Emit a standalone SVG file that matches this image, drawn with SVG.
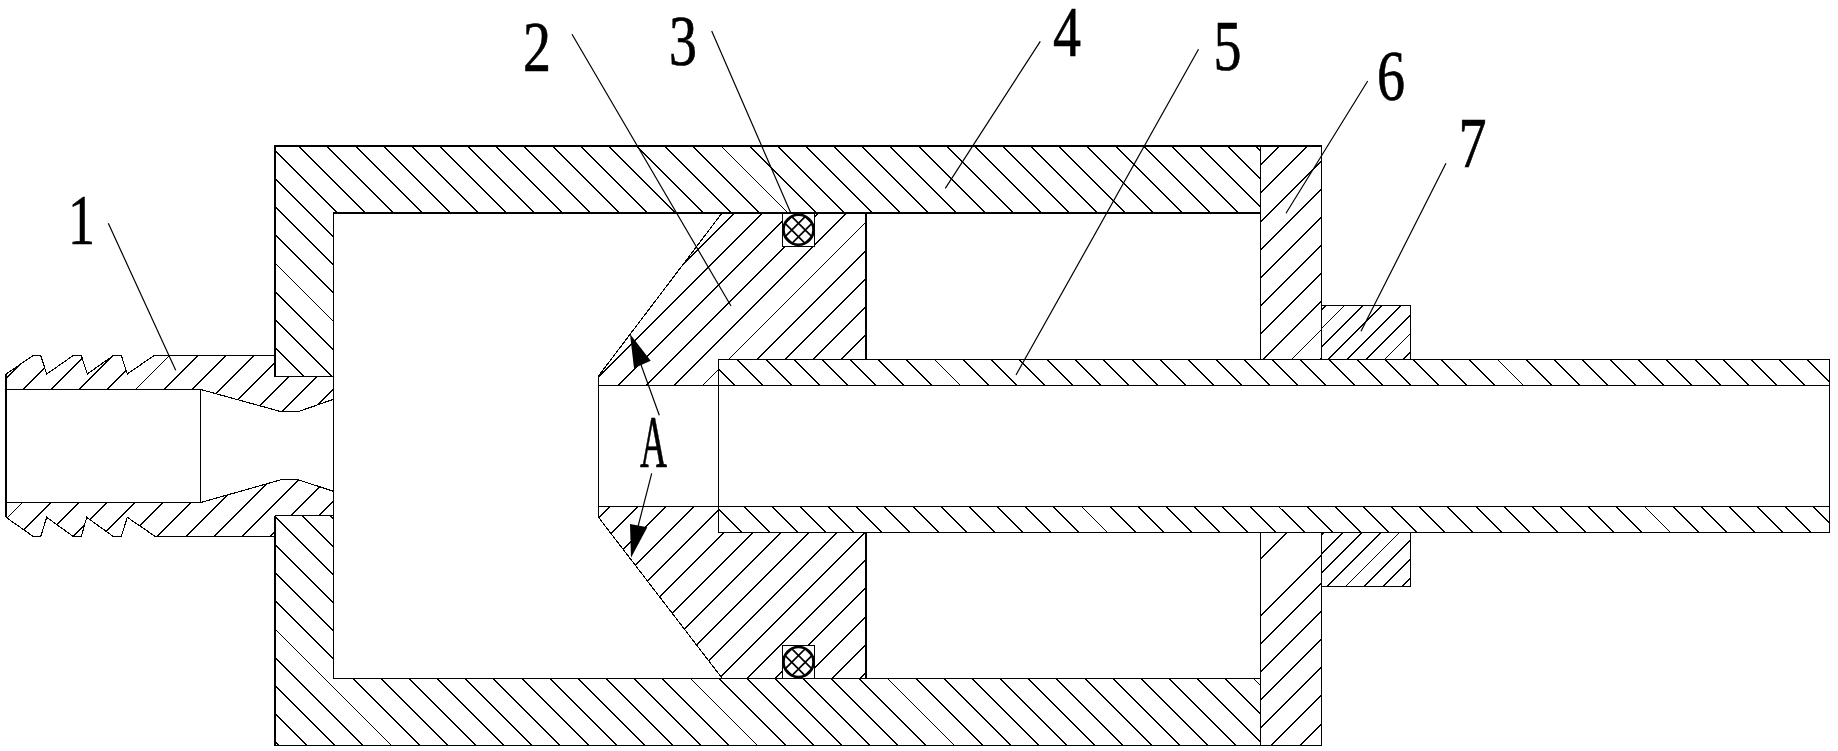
<svg xmlns="http://www.w3.org/2000/svg" width="1838" height="751" viewBox="0 0 1838 751">
<style>
.bg{fill:#fff}
.e{fill:none;stroke:#000;stroke-width:1.1;shape-rendering:crispEdges}
.t{fill:none;stroke:#000;stroke-width:2;shape-rendering:crispEdges}
.h{fill:none;stroke:#000;stroke-width:1.35;shape-rendering:crispEdges}
.l{fill:none;stroke:#000;stroke-width:1.2}
.a{fill:#000;stroke:none}
.lab{font-family:"Liberation Serif","Times New Roman",serif;font-size:72px;fill:#000;text-anchor:middle;stroke:#000;stroke-width:.7}
</style>
<defs>
<clipPath id="cb">
<rect x="275" y="146" width="985.5" height="67"/><rect x="275" y="213" width="58.5" height="163.5"/><rect x="275" y="515.5" width="58.5" height="230"/><rect x="333.5" y="678.5" width="927" height="67"/><rect x="718.5" y="359.5" width="1111" height="26"/><rect x="718.5" y="506.5" width="1111" height="26"/>
</clipPath>
<clipPath id="cf">
<polygon points="6,374 33.3,355.5 40.7,355.5 46.7,374 73.3,355.5 81.3,355.5 87.3,374 113.3,355.5 121.3,355.5 127.3,374 154,355.5 275,355.5 275,376.5 333.5,376.5 333.5,399.3 298,411.7 281.3,411.7 200.7,389.5 6,389.5"/>
<polygon points="6,502.5 200.7,502.5 281.3,479.7 298,479.7 333.5,491.3 333.5,515.5 275,515.5 275,536.5 155.3,536.5 127.3,517.3 121.3,536.5 113.3,536.5 86.7,517.3 81.3,536.5 73.3,536.5 46.7,517.3 40.7,536.5 33.3,536.5 6,517.3"/>
<polygon points="598.5,376 722,213 866,213 866,359.5 718.5,359.5 718.5,385.5 598.5,385.5"/>
<polygon points="598.5,506.5 718.5,506.5 718.5,532.5 866,532.5 866,678.5 722.3,678.5 598.5,517.3"/>
<rect x="1260.5" y="146" width="61" height="213.5"/><rect x="1260.5" y="532.5" width="61" height="213"/>
</clipPath>
<clipPath id="cn">
<rect x="1321.5" y="305.5" width="89" height="54"/><rect x="1321.5" y="532.5" width="89" height="54"/>
</clipPath>
<clipPath id="cr"><circle cx="0" cy="0" r="16"/></clipPath>
<g id="oring">
<rect class="bg" x="-16.5" y="-16.5" width="33" height="33"/>
<rect class="e" x="-16" y="-16.5" width="32" height="33"/>
<circle cx="0" cy="0" r="15" fill="#fff" stroke="#000" stroke-width="2.6"/>
<path clip-path="url(#cr)" fill="none" stroke="#000" stroke-width="1.7" d="M-27 -20L13 20M-13.5 -20L26.5 20M0 -20L40 20M-40 -20L0 20M-53 -20L-13 20M27 -20L-13 20M13.5 -20L-26.5 20M0 -20L-40 20M40 -20L0 20M53 -20L13 20"/>
</g>
</defs>
<rect class="bg" x="0" y="0" width="1838" height="751"/>

<g id="hatching">
<path class="h" clip-path="url(#cb)" d="M-466.55 0l760 760m-731.85 -760l760 760m-731.85 -760l760 760m-731.85 -760l760 760m-731.85 -760l760 760m-731.85 -760l760 760m-731.85 -760l760 760m-731.85 -760l760 760m-731.85 -760l760 760m-731.85 -760l760 760m-731.85 -760l760 760m-731.85 -760l760 760m-731.85 -760l760 760m-731.85 -760l760 760m-731.85 -760l760 760m-731.85 -760l760 760m-731.85 -760l760 760m-731.85 -760l760 760m-731.85 -760l760 760m-731.85 -760l760 760m-731.85 -760l760 760m-731.85 -760l760 760m-731.85 -760l760 760m-731.85 -760l760 760m-731.85 -760l760 760m-731.85 -760l760 760m-731.85 -760l760 760m-731.85 -760l760 760m-731.85 -760l760 760m-731.85 -760l760 760m-731.85 -760l760 760m-731.85 -760l760 760m-731.85 -760l760 760m-731.85 -760l760 760m-731.85 -760l760 760m-731.85 -760l760 760m-731.85 -760l760 760m-731.85 -760l760 760m-731.85 -760l760 760m-731.85 -760l760 760m-731.85 -760l760 760m-731.85 -760l760 760m-731.85 -760l760 760m-731.85 -760l760 760m-731.85 -760l760 760m-731.85 -760l760 760m-731.85 -760l760 760m-731.85 -760l760 760m-731.85 -760l760 760m-731.85 -760l760 760m-731.85 -760l760 760m-731.85 -760l760 760m-731.85 -760l760 760m-731.85 -760l760 760m-731.85 -760l760 760m-731.85 -760l760 760m-731.85 -760l760 760m-731.85 -760l760 760m-731.85 -760l760 760m-731.85 -760l760 760m-731.85 -760l760 760m-731.85 -760l760 760"/>
<path class="h" clip-path="url(#cb)" d="M1250.6 0l760 760M1278.75 0l760 760M1306.9 0l760 760M1335.05 0l760 760M1363.2 0l760 760M1391.35 0l760 760M1419.5 0l760 760M1447.65 0l760 760M1475.8 0l760 760"/>
<path class="h" clip-path="url(#cf)" d="M356.1 0l-760 760m788.15 -760l-760 760m788.15 -760l-760 760m788.15 -760l-760 760m788.15 -760l-760 760m788.15 -760l-760 760m788.15 -760l-760 760m788.15 -760l-760 760m788.15 -760l-760 760m788.15 -760l-760 760m788.15 -760l-760 760m788.15 -760l-760 760m788.15 -760l-760 760m788.15 -760l-760 760m788.15 -760l-760 760m788.15 -760l-760 760m788.15 -760l-760 760m788.15 -760l-760 760m788.15 -760l-760 760m788.15 -760l-760 760m788.15 -760l-760 760m788.15 -760l-760 760m788.15 -760l-760 760m788.15 -760l-760 760m788.15 -760l-760 760m788.15 -760l-760 760m788.15 -760l-760 760m788.15 -760l-760 760m788.15 -760l-760 760m788.15 -760l-760 760m788.15 -760l-760 760m788.15 -760l-760 760m788.15 -760l-760 760m788.15 -760l-760 760m788.15 -760l-760 760m788.15 -760l-760 760m788.15 -760l-760 760m788.15 -760l-760 760m788.15 -760l-760 760m788.15 -760l-760 760m788.15 -760l-760 760m788.15 -760l-760 760m788.15 -760l-760 760m788.15 -760l-760 760m788.15 -760l-760 760m788.15 -760l-760 760m788.15 -760l-760 760m788.15 -760l-760 760m788.15 -760l-760 760m788.15 -760l-760 760m788.15 -760l-760 760m788.15 -760l-760 760m788.15 -760l-760 760"/>
<path class="h" clip-path="url(#cf)" d="M1876.2 0l-760 760M1904.35 0l-760 760M1932.5 0l-760 760M1960.65 0l-760 760M1988.8 0l-760 760M2016.95 0l-760 760M2045.1 0l-760 760"/>
<path class="h" clip-path="url(#cn)" d="M1631.2 0l-760 760m778.8 -760l-760 760m778.8 -760l-760 760m778.8 -760l-760 760m778.8 -760l-760 760m778.8 -760l-760 760m778.8 -760l-760 760m778.8 -760l-760 760m778.8 -760l-760 760m778.8 -760l-760 760m778.8 -760l-760 760m778.8 -760l-760 760m778.8 -760l-760 760m778.8 -760l-760 760"/>
<path class="h" clip-path="url(#cn)" d="M1875.6 0l-760 760M1894.4 0l-760 760M1913.2 0l-760 760M1932 0l-760 760M1950.8 0l-760 760M1969.6 0l-760 760M1988.4 0l-760 760"/>
</g>

<g id="part-4-housing">
<path class="t" d="M275 145V376.5M274 146H1321.5M333 213H1260.5M275 515.5V746"/>
<path class="e" d="M275 376.5H333.5M275 515.5H333.5M333.5 213V678.5M333.5 678.5H1260.5M275 745.5H1321.5"/>
</g>
<g id="part-6-end-cap">
<path class="e" d="M1260.5 146V359.5M1260.5 532.5V745.5M1321.5 146V359.5M1321.5 532.5V745.5"/>
</g>
<g id="part-7-nut">
<path class="e" d="M1321.5 305.5H1410.5V359.5M1321.5 586.5H1410.5V532.5"/>
</g>
<g id="part-1-fitting">
<path class="e" d="M6 374L33.3 355.5H40.7L46.7 374L73.3 355.5H81.3L87.3 374L113.3 355.5H121.3L127.3 374L154 355.5H275"/>
<path class="e" d="M6 517.3L33.3 536.5H40.7L46.7 517.3L73.3 536.5H81.3L86.7 517.3L113.3 536.5H121.3L127.3 517.3L155.3 536.5H275"/>
<path class="e" d="M6 389.5H200.7L281.3 411.7H298L333.5 399.3M6 502.5H200.7L281.3 479.7H298L333.5 491.3M200.7 389.5V502.5"/>
<path class="t" d="M6 374V517.3"/>
</g>
<g id="part-2-piston">
<path class="e" d="M598.5 376L722 213M598.5 517.3L722.3 678.5M598.5 376V517.3M598.5 385.5H718.5M598.5 506.5H718.5"/>
<path class="t" d="M866 213V359.5M866 532.5V678.5"/>
</g>
<g id="part-5-tube">
<path class="e" d="M718.5 359.5H1829.5V532.5H718.5ZM718.5 385.5H1829.5M718.5 506.5H1829.5"/>
</g>
<g id="part-3-o-rings">
<use href="#oring" x="798.5" y="229.8"/>
<use href="#oring" x="798.5" y="662"/>
</g>

<g id="connectors">
<path class="l" d="M108.3 223.3L175.7 370.3M572 34.3L731 306M711.7 31L790.7 212.7M1040.3 41.3L945.3 188.3M1198.5 49.3L1016 375M1367.7 81L1286 213.3M1446 163.3L1361 331.3M632 340L659.3 415.3M632 550L651.7 473.3"/>
<polygon class="a" points="630,334 650.7,360.7 634,368.3"/>
<polygon class="a" points="631,557.7 630,524 647.3,527.3"/>
</g>

<g id="labels">
<text class="lab" x="81.5" y="244" textLength="27" lengthAdjust="spacingAndGlyphs">1</text>
<text class="lab" x="537" y="70.7" textLength="28" lengthAdjust="spacingAndGlyphs">2</text>
<text class="lab" x="683" y="65" textLength="28" lengthAdjust="spacingAndGlyphs">3</text>
<text class="lab" x="1067" y="55.7" textLength="28" lengthAdjust="spacingAndGlyphs">4</text>
<text class="lab" x="1227.5" y="69.5" textLength="28" lengthAdjust="spacingAndGlyphs">5</text>
<text class="lab" x="1391" y="99.5" textLength="28" lengthAdjust="spacingAndGlyphs">6</text>
<text class="lab" x="1472.5" y="167" textLength="28" lengthAdjust="spacingAndGlyphs">7</text>
<text class="lab" x="653.5" y="466.7" textLength="27" lengthAdjust="spacingAndGlyphs" style="font-size:74px">A</text>
</g>
</svg>
